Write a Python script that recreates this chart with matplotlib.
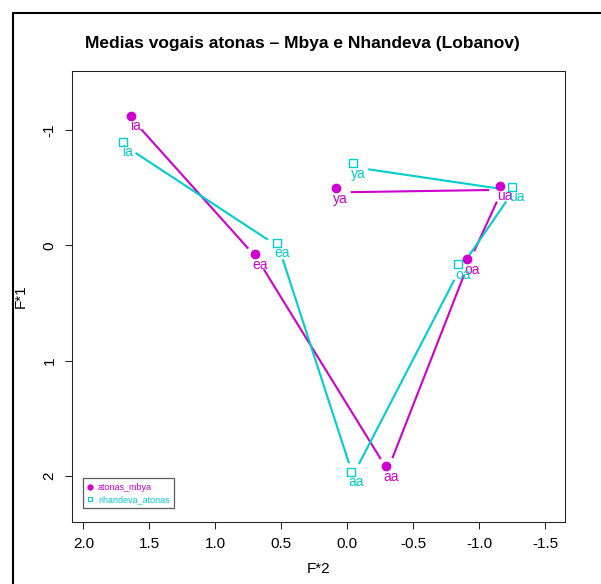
import numpy as np
import matplotlib as mpl
mpl.use("Agg")
import matplotlib.pyplot as plt
from matplotlib.lines import Line2D
from matplotlib.patches import Rectangle

plt.rcParams['font.family'] = ['Liberation Sans', 'DejaVu Sans']

# vowel labels, in drawing order of the lines
vogais = ["ia", "ea", "aa", "oa", "ua", "ya"]

# atonas_mbya (F*2, F*1)
mbya_f2 = [1.642, 0.700, -0.291, -0.905, -1.160, 0.088]
mbya_f1 = [-1.127, 0.076, 1.917, 0.119, -0.518, -0.496]

# nhandeva_atonas (F*2, F*1)
nhan_f2 = [1.703, 0.535, -0.028, -0.842, -1.246, -0.046]
nhan_f1 = [-0.901, -0.023, 1.963, 0.163, -0.510, -0.713]

xticks = [2.0, 1.5, 1.0, 0.5, 0.0, -0.5, -1.0, -1.5]
yticks = [-1, 0, 1, 2]

cor_mbya = "#CD00CD"
cor_nhan = "#00CDCD"


def gapLines(ax, xs, ys, color, gap=13, shift=(2, -4)):
    # lines like R type="b": leave a gap around each vertex
    pts = ax.transData.transform(np.column_stack([xs, ys])) + np.array(shift)
    inv = ax.transData.inverted()
    for i in range(len(pts) - 1):
        p0 = pts[i]
        p1 = pts[i + 1]
        d = p1 - p0
        dist = np.hypot(d[0], d[1])
        if dist <= 2 * gap:
            continue
        u = d / dist
        a = inv.transform(p0 + u * gap)
        b = inv.transform(p1 - u * gap)
        ax.plot([a[0], b[0]], [a[1], b[1]], color=color, lw=1.5,
                solid_capstyle="butt", zorder=2)


fig = plt.figure(figsize=(6.01, 5.84), dpi=100)
ax = fig.add_axes([0.1206, 0.107, 0.8194, 0.772])
ax.set_xlim(2.083, -1.650)
ax.set_ylim(2.397, -1.518)

gapLines(ax, mbya_f2, mbya_f1, cor_mbya)
gapLines(ax, nhan_f2, nhan_f1, cor_nhan)

ax.plot(mbya_f2, mbya_f1, "o", color=cor_mbya, ms=6, ls="none", zorder=3)
ax.plot(nhan_f2, nhan_f1, "s", mfc="none", mec=cor_nhan, mew=1.0, ms=5.5,
        ls="none", zorder=3)

for i in range(len(vogais)):
    ax.annotate(vogais[i], (mbya_f2[i], mbya_f1[i]), xytext=(3.6, -7.6),
                textcoords="offset points", ha="center", va="center",
                color=cor_mbya, fontsize=10)
    ax.annotate(vogais[i], (nhan_f2[i], nhan_f1[i]), xytext=(3.6, -7.6),
                textcoords="offset points", ha="center", va="center",
                color=cor_nhan, fontsize=10)

ax.set_xticks(xticks)
ax.set_xticklabels(["%.1f" % v for v in xticks])
ax.set_yticks(yticks)
ax.set_yticklabels([str(v) for v in yticks])
ax.tick_params(direction="out", length=5, width=0.75, labelsize=11,
               pad=6.5, colors="#222222", labelcolor="black")
plt.setp(ax.get_yticklabels(), rotation=90, va="center")
for s in ax.spines.values():
    s.set_linewidth(0.75)
    s.set_color("#222222")

ax.set_xlabel("F*2", fontsize=11)
ax.xaxis.set_label_coords(0.5, -0.105)
ax.xaxis.label.set_va("center")
ax.set_ylabel("F*1", fontsize=11)
ax.yaxis.set_label_coords(-0.105, 0.5)
ax.yaxis.label.set_va("center")

fig.text(0.503, 0.9247, "Medias vogais atonas \u2013 Mbya e Nhandeva (Lobanov)",
         ha="center", va="center", fontsize=12.5, fontweight="bold")

handles = [
    Line2D([], [], marker="o", color=cor_mbya, ls="none", ms=3.5),
    Line2D([], [], marker="s", mfc="none", mec=cor_nhan, ls="none", ms=3.5, mew=0.8),
]
leg = ax.legend(handles, ["atonas_mbya", "nhandeva_atonas"], loc="lower left",
                bbox_to_anchor=(0.0207, 0.029), borderaxespad=0, fontsize=6.5,
                frameon=True, fancybox=False, edgecolor="#333333",
                handlelength=0.6, handletextpad=0.6, labelspacing=0.35,
                borderpad=0.5, labelcolor=[cor_mbya, cor_nhan])
leg.get_frame().set_linewidth(0.9)

# outer device frame (only left and top visible in the crop)
fig.patches.append(Rectangle((12.5 / 601, -0.1), 2, 1 - 12.5 / 584 + 0.1,
                             transform=fig.transFigure, fill=False,
                             lw=1.5, edgecolor="black"))

fig.savefig("out.png", dpi=100)
